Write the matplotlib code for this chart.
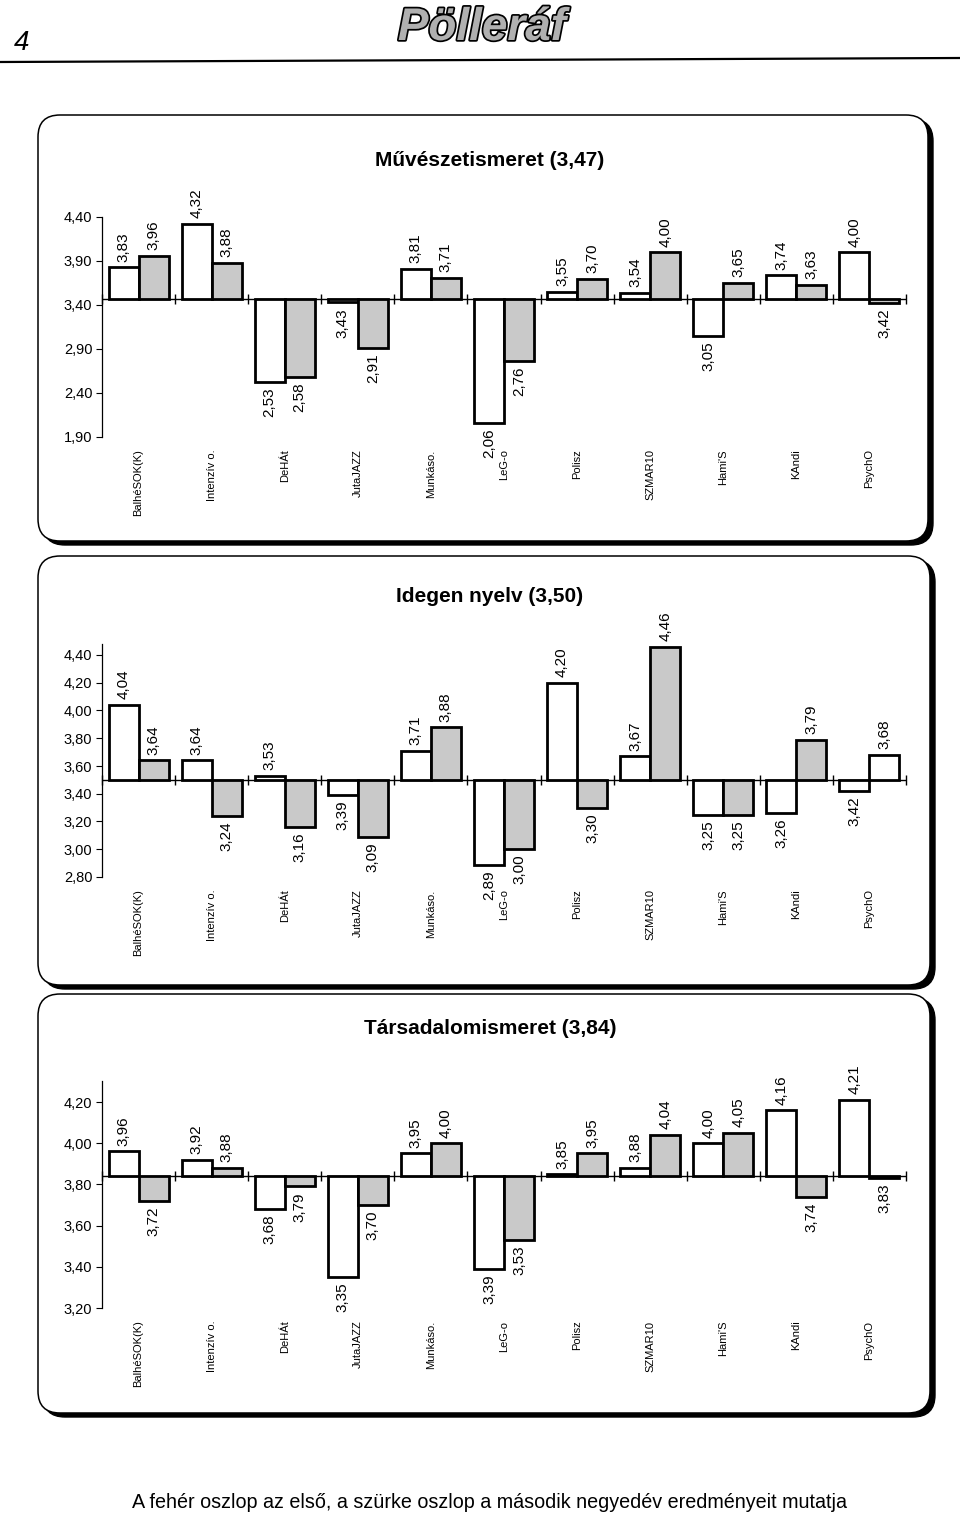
import matplotlib
matplotlib.use('Agg')
import matplotlib.pyplot as plt
from matplotlib.patches import FancyBboxPatch
import matplotlib.patheffects as pe

plt.rcParams['font.family'] = ['Liberation Sans', 'DejaVu Sans']

# Adatok
kategoriak = ["BalhéSOK(K)", "Intenzív o.", "DeHÁt", "JutaJAZZ", "Munkáso.", "LeG-o",
              "Polisz", "SZMAR10", "Hami'S", "KAndi", "PsychO"]

muv_cim = "Művészetismeret (3,47)"
muv_atlag = 3.47
muv_elso = [3.83, 4.32, 2.53, 3.43, 3.81, 2.06, 3.55, 3.54, 3.05, 3.74, 4.00]
muv_masodik = [3.96, 3.88, 2.58, 2.91, 3.71, 2.76, 3.70, 4.00, 3.65, 3.63, 3.42]
muv_yticks = [1.90, 2.40, 2.90, 3.40, 3.90, 4.40]

ide_cim = "Idegen nyelv (3,50)"
ide_atlag = 3.50
ide_elso = [4.04, 3.64, 3.53, 3.39, 3.71, 2.89, 4.20, 3.67, 3.25, 3.26, 3.42]
ide_masodik = [3.64, 3.24, 3.16, 3.09, 3.88, 3.00, 3.30, 4.46, 3.25, 3.79, 3.68]
ide_yticks = [2.80, 3.00, 3.20, 3.40, 3.60, 3.80, 4.00, 4.20, 4.40]

tar_cim = "Társadalomismeret (3,84)"
tar_atlag = 3.84
tar_elso = [3.96, 3.92, 3.68, 3.35, 3.95, 3.39, 3.85, 3.88, 4.00, 4.16, 4.21]
tar_masodik = [3.72, 3.88, 3.79, 3.70, 4.00, 3.53, 3.95, 4.04, 4.05, 3.74, 3.83]
tar_yticks = [3.20, 3.40, 3.60, 3.80, 4.00, 4.20]

W, H = 960, 1522
fig = plt.figure(figsize=(W / 100, H / 100), dpi=100)

# háttér rajzlap pixel koordinátákkal
bg = fig.add_axes([0, 0, 1, 1], zorder=-10)
bg.set_xlim(0, W)
bg.set_ylim(H, 0)
bg.axis('off')

# fejléc
bg.plot([0, 960], [62, 58], color='black', lw=1.6)
bg.text(14, 56, "4", fontsize=20, style='italic', ha='left', va='bottom')
bg.text(482, 28, "Pölleráf", fontsize=33, fontweight='bold', style='italic',
        ha='center', va='center', color='#b0b0b0',
        path_effects=[pe.withStroke(linewidth=2.5, foreground='black')])


def keret(x0, y0, x1, y1):
    arnyek = FancyBboxPatch((x0 + 5, y0 + 4), x1 - x0, y1 - y0,
                            boxstyle="round,pad=0,rounding_size=22",
                            facecolor='black', edgecolor='black', lw=1)
    lap = FancyBboxPatch((x0, y0), x1 - x0, y1 - y0,
                         boxstyle="round,pad=0,rounding_size=22",
                         facecolor='white', edgecolor='black', lw=1.1)
    bg.add_patch(arnyek)
    bg.add_patch(lap)


def fmt(v):
    return f"{v:.2f}".replace('.', ',')


def panel(cim, atlag, elso, masodik, yticks, ylim, ypix, cim_y, feher_masodik=()):
    # ypix: a legalsó és legfelső osztásjel pixel pozíciója
    top_px = ypix[0] - (ylim[1] - yticks[-1]) * (ypix[1] - ypix[0]) / (yticks[-1] - ylim[0])
    bot_px = ypix[1]
    left, right = 102, 906
    ax = fig.add_axes([left / W, 1 - bot_px / H, (right - left) / W, (bot_px - top_px) / H])
    ax.set_facecolor('none')
    x = list(range(len(kategoriak)))
    w = 0.41
    szurke = ['white' if i in feher_masodik else '#c9c9c9' for i in x]
    ax.bar([i - w / 2 for i in x], [v - atlag for v in elso], bottom=atlag, width=w,
           color='white', edgecolor='black', linewidth=2, zorder=3)
    ax.bar([i + w / 2 for i in x], [v - atlag for v in masodik], bottom=atlag, width=w,
           color=szurke, edgecolor='black', linewidth=2, zorder=3)
    for sor, dx in ((elso, -w / 2), (masodik, w / 2)):
        for i, v in enumerate(sor):
            fel = v >= atlag
            ax.annotate(fmt(v), (i + dx, v), xytext=(0, 4 if fel else -4),
                        textcoords='offset points', rotation=90, ha='center',
                        va='bottom' if fel else 'top', fontsize=11, annotation_clip=False)
    # alapvonal elválasztó jelekkel
    ax.axhline(atlag, color='black', lw=1, zorder=2)
    sep = [i - 0.5 for i in range(len(kategoriak) + 1)]
    ax.plot(sep, [atlag] * len(sep), ls='none', marker='|', ms=7, mew=1,
            color='black', zorder=2, clip_on=False)
    ax.set_xlim(-0.5, len(kategoriak) - 0.5)
    ax.set_ylim(*ylim)
    ax.set_yticks(yticks)
    ax.set_yticklabels([fmt(t) for t in yticks], fontsize=10.5)
    ax.tick_params(axis='y', length=4, width=0.8, pad=3)
    ax.set_xticks(x)
    ax.set_xticklabels(kategoriak, rotation=90, fontsize=8)
    ax.tick_params(axis='x', length=0, pad=9)
    for s in ('top', 'right', 'bottom'):
        ax.spines[s].set_visible(False)
    ax.spines['left'].set_linewidth(0.9)
    bg.text(490, cim_y, cim, fontsize=15, fontweight='bold', ha='center', va='center')
    return ax


keret(38, 115, 928, 541)
panel(muv_cim, muv_atlag, muv_elso, muv_masodik, muv_yticks, (1.90, 4.40), (217, 437), 160)

keret(38, 556, 930, 985)
panel(ide_cim, ide_atlag, ide_elso, ide_masodik, ide_yticks, (2.80, 4.48), (655, 877), 597,
      feher_masodik=(10,))

keret(38, 994, 930, 1413)
panel(tar_cim, tar_atlag, tar_elso, tar_masodik, tar_yticks, (3.20, 4.30), (1102, 1308), 1028)

bg.text(490, 1502, "A fehér oszlop az első, a szürke oszlop a második negyedév eredményeit mutatja",
        fontsize=14.2, ha='center', va='center')

fig.savefig('out.png', dpi=100)
plt.close(fig)
